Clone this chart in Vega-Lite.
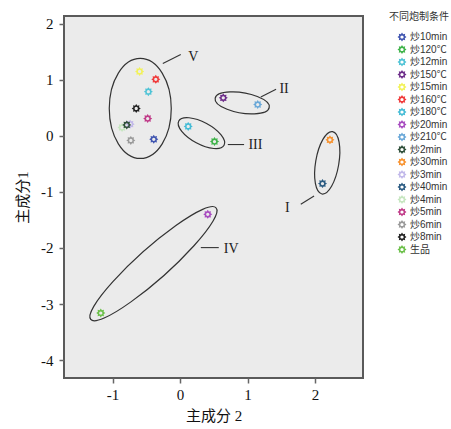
{
  "$schema": "https://vega.github.io/schema/vega-lite/v6.json",
  "width": 299,
  "height": 362,
  "autosize": {"type": "none"},
  "padding": {"left": 64, "top": 16, "right": 88, "bottom": 51},
  "background": "white",
  "config": {
    "view": {"fill": "#ebebeb", "stroke": "#5a5a5a", "strokeWidth": 2},
    "axis": {
      "domain": false,
      "grid": false,
      "tickColor": "#666666",
      "tickSize": 5,
      "tickWidth": 1.5,
      "labelFont": "Liberation Serif",
      "labelFontSize": 15,
      "labelColor": "#111111",
      "titleFont": "Liberation Serif, Noto Sans CJK SC",
      "titleFontSize": 15,
      "titleFontWeight": "normal",
      "titleColor": "#111111"
    }
  },
  "datasets": {
    "points": [
      {"condition": "炒15min", "pc2": -0.60, "pc1": 1.15},
      {"condition": "炒160℃", "pc2": -0.36, "pc1": 1.01},
      {"condition": "炒12min", "pc2": -0.47, "pc1": 0.79},
      {"condition": "炒8min", "pc2": -0.65, "pc1": 0.49},
      {"condition": "炒5min", "pc2": -0.48, "pc1": 0.31},
      {"condition": "炒4min", "pc2": -0.86, "pc1": 0.15},
      {"condition": "炒3min", "pc2": -0.74, "pc1": 0.21},
      {"condition": "炒2min", "pc2": -0.79, "pc1": 0.196},
      {"condition": "炒6min", "pc2": -0.73, "pc1": -0.08},
      {"condition": "炒10min", "pc2": -0.39, "pc1": -0.06},
      {"condition": "炒180℃", "pc2": 0.12, "pc1": 0.17},
      {"condition": "炒120℃", "pc2": 0.51, "pc1": -0.10},
      {"condition": "炒150℃", "pc2": 0.64, "pc1": 0.68},
      {"condition": "炒210℃", "pc2": 1.15, "pc1": 0.56},
      {"condition": "炒30min", "pc2": 2.22, "pc1": -0.07},
      {"condition": "炒40min", "pc2": 2.11, "pc1": -0.85},
      {"condition": "炒20min", "pc2": 0.41, "pc1": -1.40},
      {"condition": "生品", "pc2": -1.175, "pc1": -3.16}
    ],
    "clusters": [
      {"cluster": "V", "cx": -0.59, "cy": 0.49, "lx1": -0.256, "ly1": 1.293, "lx2": 0.010, "ly2": 1.454, "tx": 0.197, "ty": 1.40},
      {"cluster": "II", "cx": 0.92, "cy": 0.59, "lx1": 1.196, "ly1": 0.696, "lx2": 1.422, "ly2": 0.834, "tx": 1.541, "ty": 0.834},
      {"cluster": "III", "cx": 0.316, "cy": 0.05, "lx1": 0.707, "ly1": -0.154, "lx2": 0.948, "ly2": -0.154, "tx": 1.116, "ty": -0.154},
      {"cluster": "I", "cx": 2.18, "cy": -0.48, "lx1": 1.788, "ly1": -1.220, "lx2": 1.985, "ly2": -1.071, "tx": 1.590, "ty": -1.291},
      {"cluster": "IV", "cx": -0.395, "cy": -2.28, "lx1": 0.307, "ly1": -1.993, "lx2": 0.573, "ly2": -1.993, "tx": 0.756, "ty": -2.011}
    ]
  },
  "layer": [
    {
      "data": {"name": "clusters"},
      "transform": [{"filter": "datum.cluster === 'V'"}],
      "mark": {"type": "point", "filled": false, "stroke": "#333333", "strokeWidth": 1.2, "opacity": 1, "size": 40000,
               "shape": "M-0.31 0 A0.31 0.5 0 1 0 0.31 0 A0.31 0.5 0 1 0 -0.31 0 Z"},
      "encoding": {
        "x": {"field": "cx", "type": "quantitative", "scale": {"domain": [-1.72, 2.71], "nice": false, "zero": false},
              "axis": {"values": [-1, 0, 1, 2], "labelExpr": "'' + datum.value", "title": "主成分 2", "labelPadding": 4, "titlePadding": 6}},
        "y": {"field": "cy", "type": "quantitative", "scale": {"domain": [-4.32, 2.14], "nice": false, "zero": false},
              "axis": {"values": [-4, -3, -2, -1, 0, 1, 2], "labelExpr": "'' + datum.value", "title": "主成分1", "labelPadding": 6, "titlePadding": 10}}
      }
    },
    {
      "data": {"name": "clusters"},
      "transform": [{"filter": "datum.cluster === 'II'"}],
      "mark": {"type": "point", "filled": false, "stroke": "#333333", "strokeWidth": 1.2, "opacity": 1, "size": 40000,
               "shape": "M-0.2702 -0.0452 A0.274 0.1 9.5 1 0 0.2702 0.0452 A0.274 0.1 9.5 1 0 -0.2702 -0.0452 Z"},
      "encoding": {"x": {"field": "cx", "type": "quantitative"}, "y": {"field": "cy", "type": "quantitative"}}
    },
    {
      "data": {"name": "clusters"},
      "transform": [{"filter": "datum.cluster === 'III'"}],
      "mark": {"type": "point", "filled": false, "stroke": "#333333", "strokeWidth": 1.2, "opacity": 1, "size": 40000,
               "shape": "M-0.2265 -0.1215 A0.257 0.109 28.2 1 0 0.2265 0.1215 A0.257 0.109 28.2 1 0 -0.2265 -0.1215 Z"},
      "encoding": {"x": {"field": "cx", "type": "quantitative"}, "y": {"field": "cy", "type": "quantitative"}}
    },
    {
      "data": {"name": "clusters"},
      "transform": [{"filter": "datum.cluster === 'I'"}],
      "mark": {"type": "point", "filled": false, "stroke": "#333333", "strokeWidth": 1.2, "opacity": 1, "size": 40000,
               "shape": "M0.0532 -0.3115 A0.316 0.116 99.7 1 0 -0.0532 0.3115 A0.316 0.116 99.7 1 0 0.0532 -0.3115 Z"},
      "encoding": {"x": {"field": "cx", "type": "quantitative"}, "y": {"field": "cy", "type": "quantitative"}}
    },
    {
      "data": {"name": "clusters"},
      "transform": [{"filter": "datum.cluster === 'IV'"}],
      "mark": {"type": "point", "filled": false, "stroke": "#333333", "strokeWidth": 1.2, "opacity": 1, "size": 40000,
               "shape": "M-0.6264 0.5581 A0.839 0.155 -41.7 1 0 0.6264 -0.5581 A0.839 0.155 -41.7 1 0 -0.6264 0.5581 Z"},
      "encoding": {"x": {"field": "cx", "type": "quantitative"}, "y": {"field": "cy", "type": "quantitative"}}
    },
    {
      "data": {"name": "clusters"},
      "mark": {"type": "rule", "stroke": "#333333", "strokeWidth": 1.1},
      "encoding": {
        "x": {"field": "lx1", "type": "quantitative"}, "y": {"field": "ly1", "type": "quantitative"},
        "x2": {"field": "lx2"}, "y2": {"field": "ly2"}
      }
    },
    {
      "data": {"name": "clusters"},
      "mark": {"type": "text", "font": "Liberation Serif", "fontSize": 14, "color": "#222222", "align": "center", "baseline": "middle"},
      "encoding": {
        "x": {"field": "tx", "type": "quantitative"}, "y": {"field": "ty", "type": "quantitative"},
        "text": {"field": "cluster"}
      }
    },
    {
      "data": {"name": "points"},
      "mark": {"type": "point", "filled": true, "opacity": 1, "size": 81, "strokeWidth": 0,
               "shape": "M1 0 L0.628 0.26 L0.707 0.707 L0.26 0.628 L0 1 L-0.26 0.628 L-0.707 0.707 L-0.628 0.26 L-1 0 L-0.628 -0.26 L-0.707 -0.707 L-0.26 -0.628 L0 -1 L0.26 -0.628 L0.707 -0.707 L0.628 -0.26 Z M0.36 0 A0.36 0.36 0 1 0 -0.36 0 A0.36 0.36 0 1 0 0.36 0 Z"},
      "encoding": {
        "x": {"field": "pc2", "type": "quantitative"},
        "y": {"field": "pc1", "type": "quantitative"},
        "color": {
          "field": "condition", "type": "nominal",
          "scale": {
            "domain": ["炒10min", "炒120℃", "炒12min", "炒150℃", "炒15min", "炒160℃", "炒180℃", "炒20min", "炒210℃", "炒2min", "炒30min", "炒3min", "炒40min", "炒4min", "炒5min", "炒6min", "炒8min", "生品"],
            "range": ["#4055b0", "#3fb34a", "#4fc3d6", "#6e2e8a", "#f2f25a", "#f03a3a", "#45bcd6", "#a84cc0", "#6aa8d8", "#2f4f3a", "#f8922e", "#c2b9ea", "#2b5b82", "#c6e6c0", "#c03a88", "#9a9a9a", "#222222", "#6cc04a"]
          },
          "legend": {
            "title": "不同炮制条件",
            "orient": "none",
            "legendX": 325,
            "legendY": -4,
            "padding": 0,
            "titleFont": "Liberation Serif, Noto Sans CJK SC",
            "titleFontSize": 10,
            "titleFontWeight": "normal",
            "titleColor": "#333333",
            "titlePadding": 10,
            "labelFont": "Liberation Sans, Noto Sans CJK SC",
            "labelFontSize": 10,
            "labelColor": "#333333",
            "labelOffset": 3,
            "symbolOffset": 8,
            "symbolSize": 81,
            "symbolStrokeWidth": 0,
            "symbolType": "M1 0 L0.628 0.26 L0.707 0.707 L0.26 0.628 L0 1 L-0.26 0.628 L-0.707 0.707 L-0.628 0.26 L-1 0 L-0.628 -0.26 L-0.707 -0.707 L-0.26 -0.628 L0 -1 L0.26 -0.628 L0.707 -0.707 L0.628 -0.26 Z M0.36 0 A0.36 0.36 0 1 0 -0.36 0 A0.36 0.36 0 1 0 0.36 0 Z",
            "rowPadding": 2.5
          }
        }
      }
    }
  ]
}
